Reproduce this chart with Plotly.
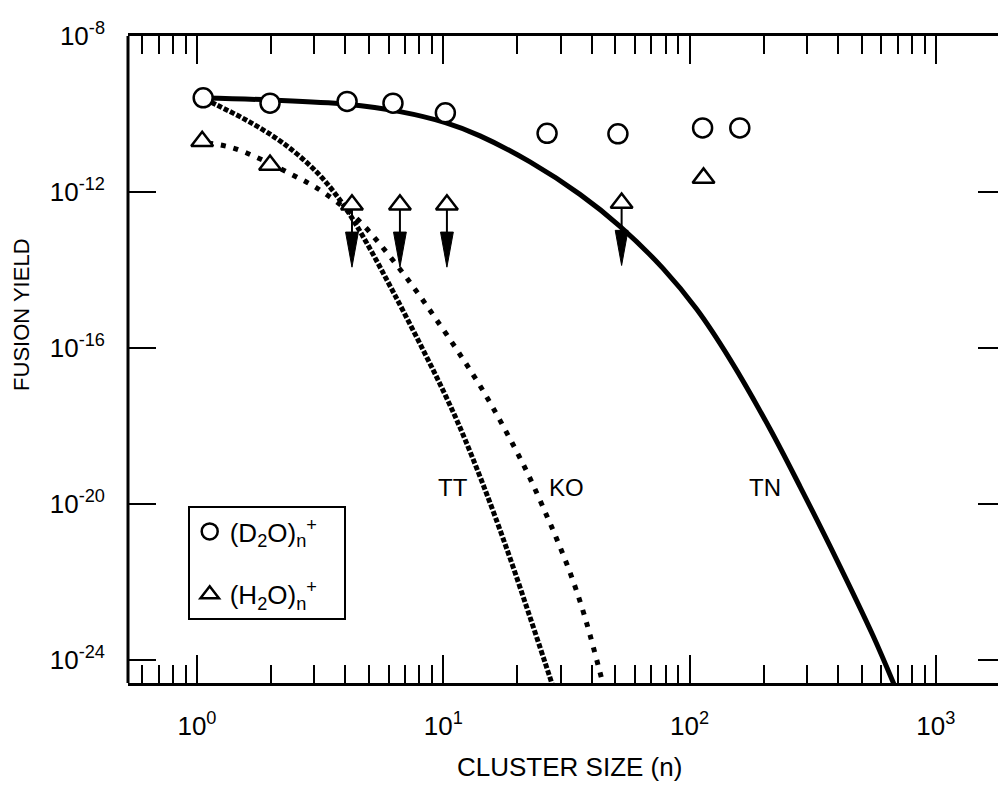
import numpy as np
import plotly.graph_objects as go

# ---------------- data ----------------
# (D2O)n+ cluster measurements
d2o_n = [1.06, 1.98, 4.07, 6.25, 10.2, 26.4, 51.2, 113, 160]
d2o_y = [2.6e-10, 1.9e-10, 2.1e-10, 1.9e-10, 1.07e-10, 3.2e-11, 3.1e-11, 4.4e-11, 4.4e-11]

# (H2O)n+ cluster measurements (upper_limit -> downward arrow)
h2o_n = [1.05, 1.98, 4.26, 6.67, 10.35, 53, 114]
h2o_y = [2.0e-11, 4.9e-12, 4.7e-13, 4.7e-13, 4.7e-13, 5.2e-13, 2.3e-12]
h2o_upper_limit = [False, False, True, True, True, True, False]

# Theory curves
tn_n = [1.06, 1.98, 4.06, 6.67, 10.2, 14.1, 22.5, 35.9, 52.2, 78, 107, 146, 212, 281, 397, 555, 682]
tn_y = [2.57e-10, 2.29e-10, 1.78e-10, 1.15e-10, 6.0e-11, 2.75e-11, 5.9e-12, 8.7e-13, 1.32e-13,
        1.10e-14, 9.8e-16, 5.1e-17, 8.5e-19, 2.8e-20, 3.6e-22, 4.3e-24, 2.1e-25]

tt_n = [1.078, 1.205, 1.64, 2.23, 3.07, 3.92, 4.81, 6.37, 8.83, 10.23, 11.7, 14.5, 18.2, 22.5, 27.1, 28.5]
tt_y = [2.4e-10, 1.70e-10, 6.2e-11, 1.82e-11, 3.2e-12, 4.8e-13, 5.9e-14, 2.24e-15, 4.0e-17,
        5.9e-18, 9.1e-19, 3.2e-20, 6.5e-22, 1.26e-23, 3.6e-25, 1.35e-25]

ko_n = [1.108, 1.40, 1.80, 2.39, 3.07, 4.06, 4.72, 5.53, 6.67, 7.82, 9.26, 11.7, 14.8, 18.2,
        22.1, 26.4, 29.8, 33.3, 36.6, 39.4, 43.3, 44.7]
ko_y = [1.82e-11, 1.35e-11, 7.1e-12, 2.95e-12, 1.26e-12, 3.5e-13, 1.45e-13, 4.6e-14, 1.05e-14,
        2.75e-15, 6.0e-16, 6.8e-17, 6.5e-18, 6.3e-19, 5.8e-20, 4.8e-21, 7.9e-22, 1.29e-22,
        2.19e-23, 4.5e-24, 4.8e-25, 2.2e-25]

curve_labels = ["TT", "KO", "TN"]
curve_label_n = [11.0, 31.8, 202]
curve_label_y = [2.6e-20, 2.6e-20, 2.6e-20]

x_tickvals = [1, 10, 100, 1000]
x_ticktext = ["10<sup>0</sup>", "10<sup>1</sup>", "10<sup>2</sup>", "10<sup>3</sup>"]
y_tickvals = [1e-8, 1e-12, 1e-16, 1e-20, 1e-24]
y_ticktext = ["10<sup>-8</sup>", "10<sup>-12</sup>", "10<sup>-16</sup>", "10<sup>-20</sup>", "10<sup>-24</sup>"]

# ---------------- style ----------------
FONT = "Liberation Sans, Arial, Helvetica, sans-serif"
ARROW_DECADES = 1.6     # length of upper-limit arrows (decades)
HEAD_DECADES = 0.9      # arrow head length (decades)
HEAD_HALF_W = 0.026     # arrow head half width (decades in x)
NBSP = "\u00a0"

fig = go.Figure()

# upper-limit arrows (shafts and heads), built from the H2O points
shaft_x, shaft_y, head_x, head_y = [], [], [], []
for n, y, ul in zip(h2o_n, h2o_y, h2o_upper_limit):
    if not ul:
        continue
    tip = y / 10 ** ARROW_DECADES
    base = tip * 10 ** HEAD_DECADES
    shaft_x += [n, n, None]
    shaft_y += [y, base, None]
    head_x += [n / 10 ** HEAD_HALF_W, n, n * 10 ** HEAD_HALF_W, n / 10 ** HEAD_HALF_W, None]
    head_y += [base, tip, base, base, None]

fig.add_trace(go.Scatter(x=shaft_x, y=shaft_y, mode="lines",
                         line=dict(color="black", width=2), showlegend=False, hoverinfo="skip"))
fig.add_trace(go.Scatter(x=head_x, y=head_y, mode="lines", fill="toself", fillcolor="black",
                         line=dict(color="black", width=1), showlegend=False, hoverinfo="skip"))

# theory curves
fig.add_trace(go.Scatter(x=tt_n, y=tt_y, mode="lines", name="TT", showlegend=False,
                         line=dict(color="black", width=5, dash="5px,2px", shape="spline", smoothing=1)))
fig.add_trace(go.Scatter(x=ko_n, y=ko_y, mode="lines", name="KO", showlegend=False,
                         line=dict(color="black", width=5, dash="5px,8px", shape="spline", smoothing=1)))
fig.add_trace(go.Scatter(x=tn_n, y=tn_y, mode="lines", name="TN", showlegend=False,
                         line=dict(color="black", width=5, shape="spline", smoothing=1)))

# measurements
fig.add_trace(go.Scatter(x=d2o_n, y=d2o_y, mode="markers", legendgroup="d2o",
                         name="(D<sub>2</sub>O)<sub>n</sub><sup>+</sup>" + NBSP * 3,
                         marker=dict(symbol="circle", size=19, color="white",
                                     line=dict(color="black", width=2.5))))
fig.add_trace(go.Scatter(x=h2o_n, y=h2o_y, mode="markers", legendgroup="h2o",
                         name="(H<sub>2</sub>O)<sub>n</sub><sup>+</sup>" + NBSP * 3,
                         marker=dict(symbol="triangle-up", size=19, color="white",
                                     line=dict(color="black", width=2.5))))

for txt, n, y in zip(curve_labels, curve_label_n, curve_label_y):
    fig.add_annotation(x=np.log10(n), y=np.log10(y), text=txt, showarrow=False,
                       xanchor="center", yanchor="middle",
                       font=dict(family=FONT, size=24, color="black"))

# axis titles
fig.add_annotation(xref="paper", yref="paper", x=-0.1207, y=0.569, text="FUSION YIELD",
                   textangle=-90, showarrow=False, xanchor="center", yanchor="middle",
                   font=dict(family=FONT, size=22, color="black"))
fig.add_annotation(xref="paper", yref="paper", x=0.503, y=-0.130, text="CLUSTER SIZE (n)",
                   showarrow=False, xanchor="center", yanchor="middle",
                   font=dict(family=FONT, size=26, color="black"))

# left border (right border lies outside the picture)
fig.add_shape(type="line", xref="paper", yref="paper", x0=0, x1=0, y0=0, y1=1,
              line=dict(color="black", width=3))

minor_x = [m * 10 ** e for e in range(-1, 4) for m in range(2, 10) if 0.52 < m * 10 ** e < 1900]

fig.update_xaxes(type="log", range=[-0.280, 3.285],
                 tickmode="array", tickvals=x_tickvals, ticktext=x_ticktext,
                 ticks="inside", ticklen=28, tickwidth=2, tickcolor="black",
                 minor=dict(tickmode="array", tickvals=minor_x, ticks="inside", ticklen=18,
                            tickwidth=2, tickcolor="black", showgrid=False),
                 showline=True, linecolor="black", linewidth=3, mirror="ticks",
                 showgrid=False, zeroline=False, ticklabelstandoff=18,
                 tickfont=dict(family=FONT, size=26, color="black"))
fig.update_yaxes(type="log", range=[-24.59, -8.0],
                 tickmode="array", tickvals=y_tickvals, ticktext=y_ticktext,
                 ticks="inside", ticklen=28, tickwidth=2, tickcolor="black",
                 showline=False, mirror="ticks", showgrid=False, zeroline=False,
                 ticklabelstandoff=22,
                 tickfont=dict(family=FONT, size=26, color="black"))

# page body has an 8px margin, so the figure is 8px smaller than the window
fig.update_layout(width=998, height=778,
                  margin=dict(l=120, r=0, t=28, b=103),
                  paper_bgcolor="white", plot_bgcolor="white",
                  font=dict(family=FONT, color="black"),
                  legend=dict(x=0.068, y=0.2736, xanchor="left", yanchor="top",
                              bordercolor="black", borderwidth=2, bgcolor="white",
                              itemwidth=30, tracegroupgap=26, traceorder="grouped",
                              font=dict(family=FONT, size=26, color="black")))

fig.write_html("out.html")
